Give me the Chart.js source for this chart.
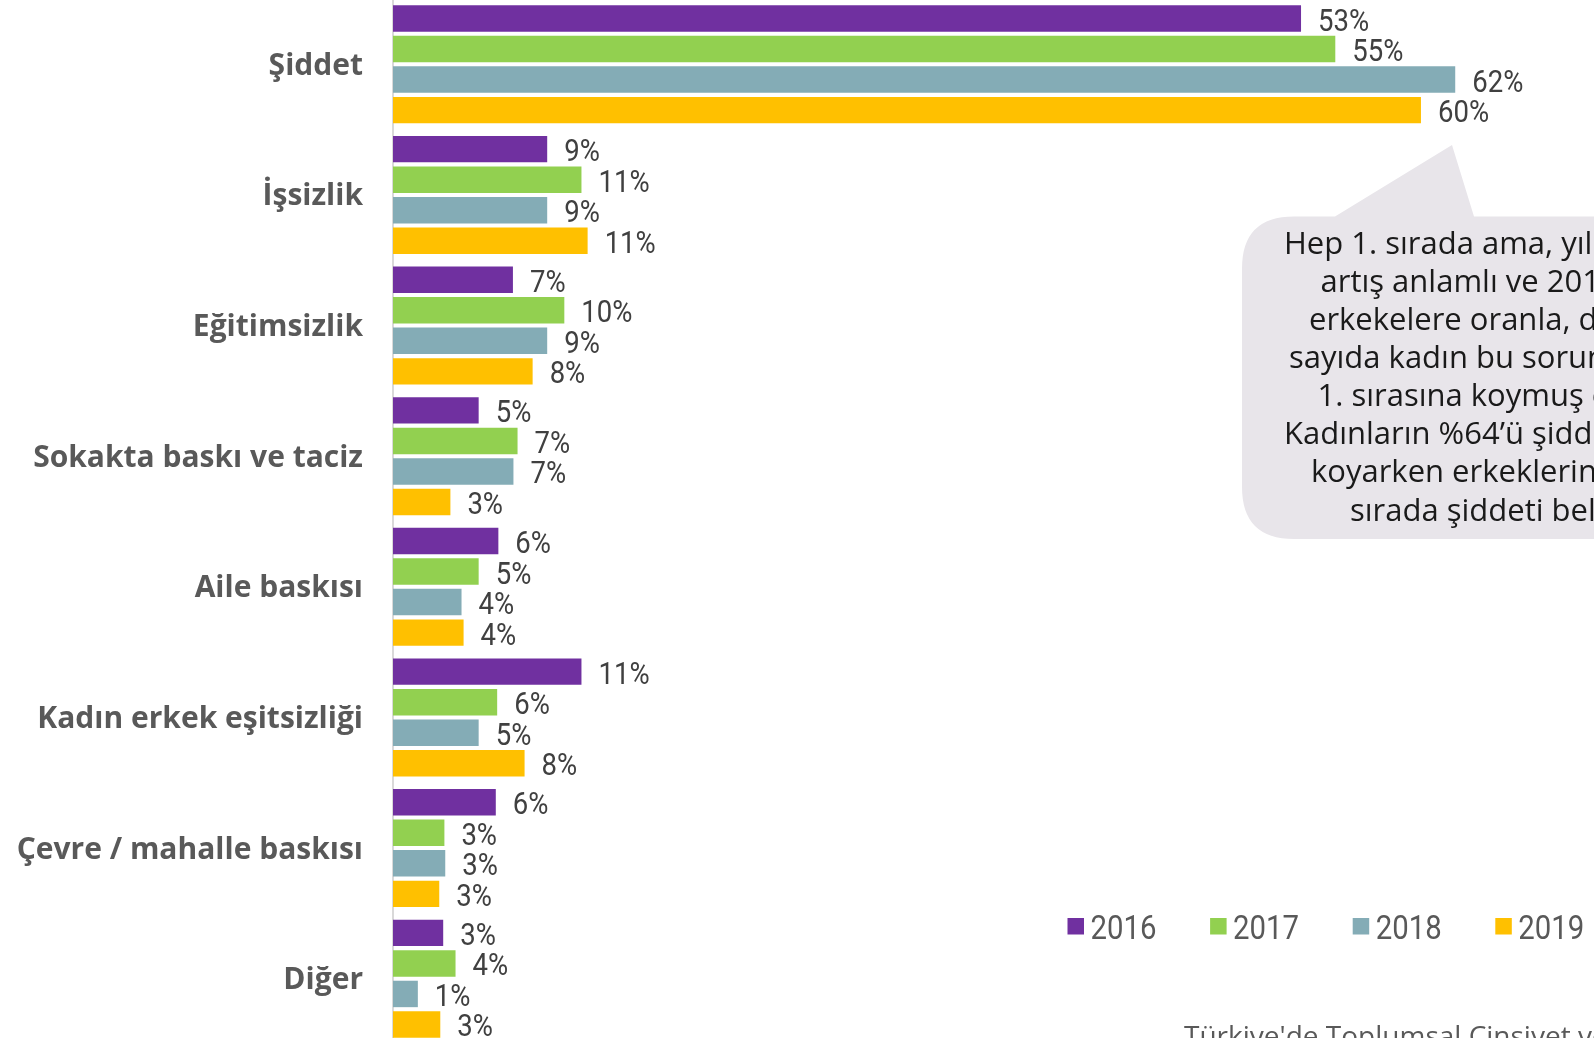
<!DOCTYPE html>
<html>
<head>
<meta charset="utf-8">
<script src="https://cdn.jsdelivr.net/npm/chart.js@4"></script>
<style>
  html, body { margin: 0; padding: 0; background: #ffffff; overflow: hidden; }
  #wrap { position: absolute; left: 0; top: -1px; width: 1594px; height: 1045px; }
</style>
</head>
<body>
<div id="wrap"><canvas id="c"></canvas></div>
<script>
const categories = ["Şiddet", "İşsizlik", "Eğitimsizlik", "Sokakta baskı ve taciz", "Aile baskısı", "Kadın erkek eşitsizliği", "Çevre / mahalle baskısı", "Diğer"];
const seriesNames = ["2016", "2017", "2018", "2019"];
const values2016 = [53, 9, 7.0, 5.0, 6.15, 11.0, 6.0, 2.93];
const values2017 = [55, 11, 10.0, 7.27, 5.0, 6.08, 3.0, 3.65];
const values2018 = [62, 9, 9.0, 7.03, 4.0, 5.0, 3.05, 1.45];
const values2019 = [60, 11.36, 8.15, 3.35, 4.12, 7.68, 2.7, 2.76];
const seriesColors = ["#7030A0", "#92D050", "#84ACB6", "#FFC000"];
const calloutLines = [
  "Hep 1. sırada ama, yıllık",
  "artış anlamlı ve 2019'da",
  "erkekelere oranla, daha fazla",
  "sayıda kadın bu sorunu listenin",
  "1. sırasına koymuş olmuş.",
  "Kadınların %64’ü şiddeti 1. sıraya",
  "koyarken erkeklerin %56'sı 1.",
  "sırada şiddeti belirtmiş."
];
const footerText = "Türkiye'de Toplumsal Cinsiyet ve Kadın Algısı Araştırması";

const OFF = 1; // canvas is shifted up by 1px
const NARROW = '"Roboto", "Liberation Sans", sans-serif';

function condensedText(ctx, text, x, y, sx) {
  ctx.save();
  ctx.translate(x, y);
  ctx.scale(sx, 1);
  ctx.fillText(text, 0, 0);
  ctx.restore();
}

const labelPlugin = {
  id: 'valueLabels',
  afterDatasetsDraw(chart) {
    const ctx = chart.ctx;
    ctx.save();
    ctx.font = '32px ' + NARROW;
    ctx.fillStyle = '#404040';
    ctx.textAlign = 'left';
    ctx.textBaseline = 'alphabetic';
    chart.data.datasets.forEach((ds, di) => {
      const meta = chart.getDatasetMeta(di);
      meta.data.forEach((bar, i) => {
        const v = ds.data[i];
        condensedText(ctx, Math.round(v) + '%', bar.x + 17, bar.y + 12, 0.86);
      });
    });
    ctx.restore();
  }
};

const decorPlugin = {
  id: 'decor',
  afterDraw(chart) {
    const ctx = chart.ctx;
    ctx.save();
    // callout bubble
    const x0 = 1242, y0 = 216.5 + OFF, x1 = 1760, y1 = 539 + OFF, r = 52;
    ctx.fillStyle = '#E8E5EA';
    ctx.beginPath();
    ctx.moveTo(x0 + r, y0);
    ctx.lineTo(1335, y0);
    ctx.lineTo(1452, 145 + OFF);
    ctx.lineTo(1474, y0);
    ctx.lineTo(x1, y0);
    ctx.lineTo(x1, y1);
    ctx.lineTo(x0 + r, y1);
    ctx.quadraticCurveTo(x0, y1, x0, y1 - r);
    ctx.lineTo(x0, y0 + r);
    ctx.quadraticCurveTo(x0, y0, x0 + r, y0);
    ctx.closePath();
    ctx.fill();

    // callout text
    const starts = [1284, 1320.5, 1309, 1289, 1317.5, 1284, 1311, 1350];
    ctx.fillStyle = '#1a1a1a';
    ctx.font = '31px "Open Sans", "Noto Sans", sans-serif';
    ctx.textAlign = 'left';
    ctx.textBaseline = 'middle';
    calloutLines.forEach((ln, i) => {
      ctx.fillText(ln, starts[i], 245 + OFF + i * 38.1);
    });

    // legend
    ctx.font = '33px ' + NARROW;
    ctx.textBaseline = 'alphabetic';
    seriesNames.forEach((name, i) => {
      const lx = 1067.5 + i * 142.6;
      ctx.fillStyle = seriesColors[i];
      ctx.fillRect(lx, 918 + OFF, 16.5, 16.5);
      ctx.fillStyle = '#595959';
      condensedText(ctx, name, lx + 23, 938.5 + OFF, 0.89);
    });

    // footer
    ctx.font = '28px "Open Sans", "Noto Sans", sans-serif';
    ctx.fillStyle = '#595959';
    ctx.textBaseline = 'top';
    ctx.fillText(footerText, 1184, 1024 + OFF);
    ctx.restore();
  }
};

const datasetValues = [values2016, values2017, values2018, values2019];

new Chart(document.getElementById('c'), {
  type: 'bar',
  data: {
    labels: categories,
    datasets: seriesNames.map((n, i) => ({
      label: n,
      data: datasetValues[i],
      backgroundColor: seriesColors[i],
      borderWidth: 0,
      categoryPercentage: 0.935,
      barPercentage: 0.866
    }))
  },
  options: {
    indexAxis: 'y',
    responsive: true,
    maintainAspectRatio: false,
    animation: false,
    layout: { padding: 0 },
    plugins: { legend: { display: false }, tooltip: { enabled: false } },
    scales: {
      x: { display: false, min: 0, max: 70.1 },
      y: {
        afterFit(scale) {
          scale.width = 393;
          scale.paddingTop = 0;
          scale.paddingBottom = 0;
        },
        grid: { display: false, drawTicks: false },
        border: { display: true, color: '#D9D9D9', width: 2 },
        ticks: {
          padding: 30,
          labelOffset: 2,
          color: '#595959',
          font: { family: '"Open Sans", "Noto Sans", sans-serif', size: 30, weight: 'bold' }
        }
      }
    }
  },
  plugins: [labelPlugin, decorPlugin]
});
</script>
</body>
</html>
